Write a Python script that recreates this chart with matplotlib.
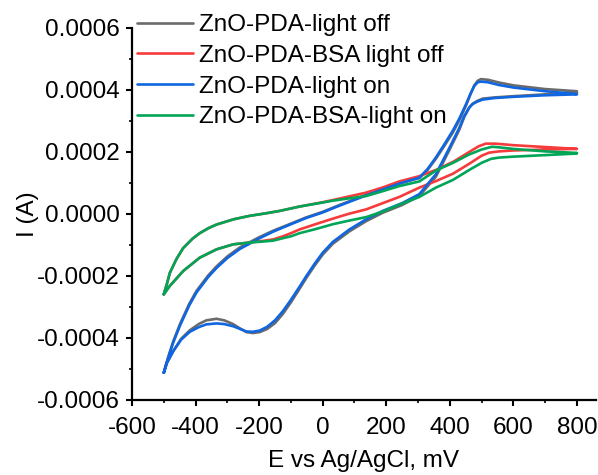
import matplotlib
matplotlib.use("Agg")
import matplotlib.pyplot as plt
from matplotlib.ticker import MultipleLocator, FormatStrFormatter

plt.rcParams['font.family'] = ['Liberation Sans', 'DejaVu Sans']
plt.rcParams['axes.unicode_minus'] = False

# potentials (mV) and currents (1e-4 A)
# ZnO-PDA-light on, scan up then back down
on_up_x = [-500, -494, -485, -470, -449, -420, -397, -360, -334, -300, -261, -200, -156, -100, -52, 0,
           53, 137, 241, 304, 330, 356, 383, 409, 430, 451, 465, 477, 488, 498, 520, 555, 600, 700, 800]
on_up_y = [-5.12, -4.9, -4.6, -4.14, -3.6, -2.95, -2.53, -2.03, -1.74, -1.42, -1.13, -0.79, -0.57,
           -0.33, -0.13, 0.05, 0.27, 0.6, 0.98, 1.17, 1.45, 1.82, 2.25, 2.68, 3.08, 3.54, 3.88, 4.13,
           4.25, 4.27, 4.25, 4.16, 4.08, 3.96, 3.87]
on_down_x = [800, 700, 600, 540, 503, 485, 471, 461, 445, 430, 398, 356, 304, 250, 189, 137, 84, 32, 0,
             -25, -50, -75, -100, -125, -150, -175, -198, -220, -240, -262, -282, -310, -334, -366,
             -390, -418, -445, -470, -490, -500]
on_down_y = [3.86, 3.83, 3.78, 3.74, 3.69, 3.62, 3.54, 3.43, 3.15, 2.78, 2.12, 1.28, 0.64, 0.35, 0.1,
             -0.17, -0.5, -0.9, -1.25, -1.6, -1.98, -2.38, -2.77, -3.13, -3.43, -3.64, -3.76, -3.8,
             -3.79, -3.7, -3.62, -3.55, -3.53, -3.56, -3.65, -3.8, -4.05, -4.42, -4.8, -5.12]

# ZnO-PDA-light off
off_up_x = on_up_x
off_up_y = [-5.12, -4.89, -4.58, -4.1, -3.55, -2.9, -2.48, -1.98, -1.69, -1.37, -1.08, -0.75, -0.54,
            -0.31, -0.11, 0.07, 0.29, 0.62, 0.99, 1.16, 1.42, 1.78, 2.2, 2.62, 3.02, 3.5, 3.86, 4.15,
            4.3, 4.35, 4.33, 4.24, 4.15, 4.03, 3.96]
off_down_x = on_down_x
off_down_y = [3.92, 3.86, 3.8, 3.76, 3.72, 3.64, 3.55, 3.43, 3.12, 2.72, 2.05, 1.2, 0.58, 0.29, 0.04,
              -0.23, -0.56, -0.96, -1.31, -1.66, -2.04, -2.45, -2.85, -3.22, -3.52, -3.71, -3.81,
              -3.84, -3.81, -3.68, -3.55, -3.43, -3.38, -3.43, -3.55, -3.75, -4.02, -4.42, -4.8, -5.12]

# ZnO-PDA-BSA light off
bsa_off_up_x = [-500, -490, -481, -460, -439, -410, -387, -360, -334, -280, -230, -180, -135, -73, 0, 32,
                80, 137, 190, 241, 304, 356, 410, 461, 490, 513, 540, 555, 600, 700, 800]
bsa_off_up_y = [-2.59, -2.25, -1.9, -1.45, -1.1, -0.8, -0.62, -0.46, -0.34, -0.17, -0.06, 0.02, 0.1,
                0.24, 0.38, 0.45, 0.56, 0.69, 0.86, 1.05, 1.22, 1.42, 1.68, 2.0, 2.18, 2.27, 2.27, 2.26,
                2.22, 2.16, 2.1]
bsa_off_down_x = [800, 700, 600, 555, 524, 500, 461, 410, 356, 304, 241, 189, 137, 80, 32, -20, -73,
                  -100, -125, -156, -190, -230, -282, -334, -387, -439, -481, -500]
bsa_off_down_y = [2.1, 2.08, 2.05, 2.02, 1.98, 1.88, 1.62, 1.3, 1.06, 0.85, 0.55, 0.35, 0.15, 0.0,
                  -0.15, -0.32, -0.5, -0.62, -0.72, -0.82, -0.87, -0.92, -0.98, -1.14, -1.41, -1.84,
                  -2.32, -2.59]

# ZnO-PDA-BSA-light on
bsa_on_up_x = [-500, -490, -481, -460, -439, -410, -387, -360, -334, -280, -230, -180, -135, -73, 0, 32,
               80, 137, 190, 241, 304, 356, 410, 461, 500, 533, 555, 600, 700, 800]
bsa_on_up_y = [-2.59, -2.25, -1.9, -1.45, -1.1, -0.8, -0.62, -0.46, -0.34, -0.17, -0.06, 0.02, 0.1,
               0.24, 0.37, 0.43, 0.5, 0.58, 0.74, 0.9, 1.05, 1.4, 1.65, 1.92, 2.08, 2.17, 2.15, 2.1,
               2.02, 1.97]
bsa_on_down_x = [800, 700, 600, 555, 530, 500, 461, 410, 356, 304, 241, 189, 137, 80, 32, -20, -73,
                 -100, -125, -156, -190, -230, -282, -334, -387, -439, -481, -500]
bsa_on_down_y = [1.95, 1.9, 1.85, 1.82, 1.78, 1.65, 1.42, 1.1, 0.85, 0.55, 0.3, 0.08, -0.1, -0.22,
                 -0.33, -0.48, -0.62, -0.72, -0.78, -0.86, -0.89, -0.92, -0.98, -1.14, -1.41, -1.84,
                 -2.32, -2.59]

series = [
    ("ZnO-PDA-light off", off_up_x + off_down_x, off_up_y + off_down_y, "#6b6b6b"),
    ("ZnO-PDA-BSA light off", bsa_off_up_x + bsa_off_down_x, bsa_off_up_y + bsa_off_down_y, "#f53b3b"),
    ("ZnO-PDA-light on", on_up_x + on_down_x, on_up_y + on_down_y, "#0f66e0"),
    ("ZnO-PDA-BSA-light on", bsa_on_up_x + bsa_on_down_x, bsa_on_up_y + bsa_on_down_y, "#00a657"),
]

fig = plt.figure(figsize=(5.98, 4.75), dpi=100)
ax = fig.add_axes([132 / 598, 75 / 475, 464 / 598, 372 / 475])

for label, xs, ys, color in series:
    ax.plot(xs, [v * 1e-4 for v in ys], color=color, lw=1.9, label=label,
            solid_joinstyle='round', solid_capstyle='round')

ax.set_xlim(-600, 860)
ax.set_ylim(-0.0006, 0.0006)
ax.xaxis.set_major_locator(MultipleLocator(200))
ax.xaxis.set_minor_locator(MultipleLocator(100))
ax.yaxis.set_major_locator(MultipleLocator(0.0002))
ax.yaxis.set_minor_locator(MultipleLocator(0.0001))
ax.yaxis.set_major_formatter(FormatStrFormatter('%.4f'))
ax.xaxis.set_major_formatter(FormatStrFormatter('%d'))

for side in ['top', 'right']:
    ax.spines[side].set_visible(False)
for side in ['left', 'bottom']:
    ax.spines[side].set_linewidth(1.6)
ax.tick_params(which='major', direction='out', length=4.5, width=1.5, labelsize=17.5)
ax.tick_params(axis='x', which='major', pad=8)
ax.tick_params(axis='y', which='major', pad=4.5)
ax.tick_params(which='minor', direction='out', length=2.5, width=1.2)

ax.set_xlabel("E vs Ag/AgCl, mV", fontsize=17.5, labelpad=8)
ax.set_ylabel("I (A)", fontsize=17.5, labelpad=-2)

ax.legend(loc='upper left', bbox_to_anchor=(137 / 598, 1 - 14 / 475), bbox_transform=fig.transFigure,
          frameon=False, fontsize=17.5, handlelength=2.3, handletextpad=0.25, labelspacing=0.36,
          borderpad=0, borderaxespad=0)

fig.savefig("out.png", dpi=100)
